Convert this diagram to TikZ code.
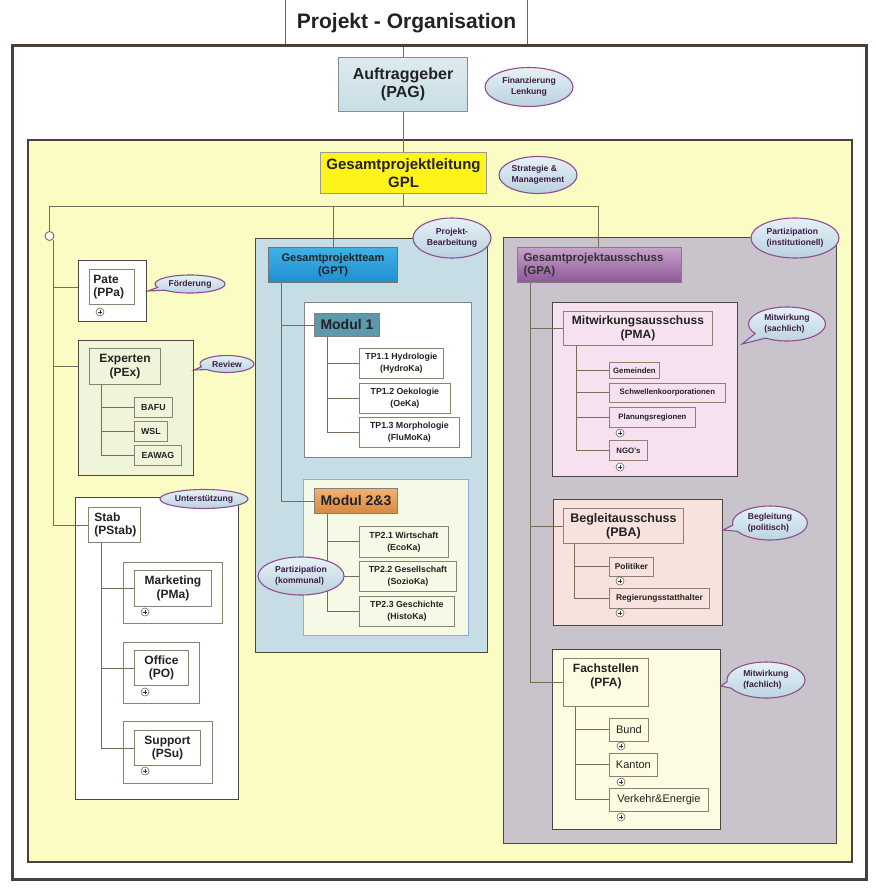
\documentclass[tikz,border=0pt]{standalone}
\usepackage{fontspec}
\setmainfont{Liberation Sans}
\usetikzlibrary{shapes.geometric,shapes.callouts}
\definecolor{outerC}{HTML}{4B4039}
\definecolor{yellowF}{HTML}{FBFBC4}
\definecolor{gptF}{HTML}{C7DDE5}
\definecolor{gpaF}{HTML}{C9C4CC}
\definecolor{pmaF}{HTML}{F6E1F0}
\definecolor{pbaF}{HTML}{F8E2DE}
\definecolor{pfaF}{HTML}{FDFBE2}
\definecolor{expF}{HTML}{EFF4DA}
\definecolor{mzF}{HTML}{F6F9E6}
\definecolor{mzD}{HTML}{8AAEDC}
\definecolor{moD}{HTML}{858585}
\definecolor{contD}{HTML}{4D4743}
\definecolor{subD}{HTML}{8C8270}
\definecolor{connC}{HTML}{7A6D58}
\definecolor{bubD}{HTML}{8E4E90}
\definecolor{bubT}{HTML}{E6F1F6}
\definecolor{bubB}{HTML}{B9D2DE}
\definecolor{bubTx}{HTML}{3D1D45}
\definecolor{txtC}{HTML}{222222}
\definecolor{gptT}{HTML}{3FB0E6}
\definecolor{gptB}{HTML}{1E90D0}
\definecolor{gpaT}{HTML}{C7A2CC}
\definecolor{gpaB}{HTML}{8E5798}
\definecolor{moF}{HTML}{5E98AD}
\definecolor{mzT}{HTML}{F2B274}
\definecolor{mzB}{HTML}{D9873E}
\newcommand\fsz[2]{\fontsize{#1}{#2}\selectfont}
\newcommand\mybox[7]{\node[anchor=north west,inner sep=0pt,minimum width={#5-#3},minimum height={#6-#4},#2] (#1) at (#3,#4) {#7};}
\begin{document}
\begin{tikzpicture}[x=1pt,y=-1pt,
  conn/.style={draw=connC,line width=0.9pt},
  cont/.style={draw=contD,line width=1.4pt},
  sub/.style={draw=subD,line width=0.8pt,font=\bfseries\fsz{8.8}{12},align=center,text=txtC},
  subs/.style={draw=subD,line width=0.8pt,font=\bfseries\fsz{7.8}{9},align=center,text=txtC},
  subr/.style={draw=subD,line width=0.8pt,font=\fsz{11}{13},align=center,text=txtC},
  head/.style={draw=subD,line width=0.9pt,font=\bfseries\fsz{12}{13.5},align=center,text=txtC},
  bub/.style={ellipse,draw=bubD,line width=1.1pt,top color=bubT,bottom color=bubB,text=bubTx,font=\bfseries\fsz{8.6}{10.5},inner sep=0pt,align=left},
  bubc/.style={ellipse callout,draw=bubD,line width=1.1pt,top color=bubT,bottom color=bubB,text=bubTx,font=\bfseries\fsz{8.6}{10.5},inner sep=0pt,align=left,callout pointer arc=22},
  plus/.style={circle,draw=subD!80!black,fill=white,line width=0.6pt,minimum size=8pt,inner sep=0pt,
    path picture={\draw[line width=0.6pt,black!80] ([xshift=-2.2pt]path picture bounding box.center) -- ([xshift=2.2pt]path picture bounding box.center) ([yshift=-2.2pt]path picture bounding box.center) -- ([yshift=2.2pt]path picture bounding box.center);}}
]
\useasboundingbox (0,0) rectangle (875,888);
\fill[white] (0,0) rectangle (875,888);
% title and frames
\mybox{title}{draw=black!60,line width=1.2pt,fill=white,font=\bfseries\fsz{21}{24},text=txtC}{285}{-1}{527}{46}{Projekt - Organisation}
\draw[outerC,line width=3pt,fill=white] (12,46) rectangle (866,879);
\draw[outerC,line width=2.5pt,fill=yellowF] (28,140) rectangle (852,862);
% top boxes
\mybox{pag}{draw=black!45,line width=1pt,top color=gptF!60!white,bottom color=gptF,font=\bfseries\fsz{16}{18.5},align=center,text=txtC}{338}{57}{467}{111}{Auftraggeber\\(PAG)}
\mybox{gpl}{draw=black!40,line width=1pt,fill=yellow!90!white,font=\bfseries\fsz{15}{17.5},align=center,text=txtC}{320}{152}{486}{193}{Gesamtprojektleitung\\GPL}
\node[bub,align=center,minimum width=88,minimum height=39] (fin) at (529,87) {Finanzierung\\Lenkung};
\node[bub,minimum width=78,minimum height=37] (strat) at (538,175) {Strategie \&\\Management};
% containers
\mybox{patec}{cont,fill=white}{78}{260}{146}{321}{}
\mybox{expc}{cont,fill=expF}{78}{340}{193}{475}{}
\mybox{stabc}{cont,fill=white}{75}{497}{238}{799}{}
\mybox{mktc}{draw=subD,line width=0.9pt}{123}{562}{222}{623}{}
\mybox{offc}{draw=subD,line width=0.9pt}{123}{642}{199}{703}{}
\mybox{supc}{draw=subD,line width=0.9pt}{123}{721}{212}{783}{}
\mybox{gptc}{cont,fill=gptF}{255}{238}{487}{652}{}
\mybox{moc}{draw=moD,line width=1.3pt,fill=white}{304}{302}{471}{457}{}
\mybox{mzc}{draw=mzD,line width=1.1pt,fill=mzF}{303}{479}{468}{635}{}
\mybox{gpac}{cont,fill=gpaF}{503}{237}{836}{843}{}
\mybox{pmac}{cont,fill=pmaF}{552}{302}{737}{476}{}
\mybox{pbac}{cont,fill=pbaF}{553}{499}{722}{625}{}
\mybox{pfac}{cont,fill=pfaF}{552}{649}{720}{829}{}
% left column boxes
\mybox{pate}{head,align=left,inner xsep=4pt,text width=37pt}{89}{269}{134}{304}{Pate\\(PPa)}
\mybox{exp}{head}{89}{348}{160}{384}{Experten\\(PEx)}
\mybox{bafu}{sub}{134}{397}{172}{417}{BAFU}
\mybox{wsl}{sub}{134}{421}{167}{441}{WSL}
\mybox{eawag}{sub}{134}{445}{181}{465}{EAWAG}
\mybox{stab}{head,align=left,inner xsep=6pt,text width=40pt}{88}{507}{140}{542}{Stab\\(PStab)}
\mybox{mkt}{head}{134}{570}{211}{606}{Marketing\\(PMa)}
\mybox{off}{head}{134}{650}{188}{685}{Office\\(PO)}
\mybox{sup}{head}{134}{730}{200}{765}{Support\\(PSu)}
% GPT
\mybox{gpt}{draw=black!55,line width=1pt,top color=gptT,bottom color=gptB,font=\bfseries\fsz{11}{13},align=center,text=txtC}{268}{247}{397}{282}{Gesamtprojektteam\\(GPT)}
\mybox{mo}{draw=black!50,line width=0.9pt,fill=moF,font=\bfseries\fsz{14}{16},text=txtC}{314}{313}{379}{336}{Modul 1}
\mybox{tpa}{sub}{359}{348}{443}{378}{TP1.1 Hydrologie\\(HydroKa)}
\mybox{tpb}{sub}{359}{383}{450}{413}{TP1.2 Oekologie\\(OeKa)}
\mybox{tpc}{sub}{359}{417}{459}{447}{TP1.3 Morphologie\\(FluMoKa)}
\mybox{mz}{draw=black!50,line width=0.9pt,top color=mzT,bottom color=mzB,font=\bfseries\fsz{14}{16},text=txtC}{314}{488}{397}{513}{Modul 2\&3}
\mybox{tpd}{sub}{359}{526}{448}{557}{TP2.1 Wirtschaft\\(EcoKa)}
\mybox{tpe}{sub}{359}{561}{456}{591}{TP2.2 Gesellschaft\\(SozioKa)}
\mybox{tpf}{sub}{359}{596}{454}{626}{TP2.3 Geschichte\\(HistoKa)}
% GPA
\mybox{gpa}{draw=black!50,line width=1pt,top color=gpaT,bottom color=gpaB,font=\bfseries\fsz{11.5}{13},align=left,inner xsep=6pt,text width=152pt,text=black!80}{517}{247}{681}{282}{Gesamtprojektausschuss\\(GPA)}
\mybox{pma}{head}{563}{311}{712}{345}{Mitwirkungsausschuss\\(PMA)}
\mybox{gem}{subs}{609}{362}{659}{378}{Gemeinden}
\mybox{sch}{subs}{609}{383}{725}{402}{Schwellenkoorporationen}
\mybox{plr}{subs}{609}{407}{695}{427}{Planungsregionen}
\mybox{ngo}{subs}{609}{440}{647}{460}{NGO's}
\mybox{pba}{head,font=\bfseries\fsz{12.5}{14}}{563}{508}{683}{543}{Begleitausschuss\\(PBA)}
\mybox{pol}{subs,font=\bfseries\fsz{8.4}{10}}{609}{557}{653}{576}{Politiker}
\mybox{reg}{subs,font=\bfseries\fsz{8.4}{10}}{609}{588}{709}{608}{Regierungsstatthalter}
\mybox{pfa}{head,font=\bfseries\fsz{12}{14}}{563}{658}{648}{706}{Fachstellen\\(PFA)\\\mbox{}}
\mybox{bund}{subr}{609}{718}{648}{741}{Bund}
\mybox{kant}{subr}{609}{753}{657}{776}{Kanton}
\mybox{vke}{subr}{609}{788}{708}{811}{Verkehr\&Energie}
% connectors
\coordinate (busL) at (49.5,206);
\coordinate (busM) at (333,206);
\coordinate (busR) at (598,206);
\node[circle,draw=connC,fill=white,line width=0.9pt,minimum size=9pt,inner sep=0pt] (jc) at (49.5,236) {};
\draw[conn] (title.south -| pag.north) -- (pag.north);
\draw[conn] (pag.south) -- (pag.south |- gpl.north);
\draw[conn] (gpl.south) -- (gpl.south |- busL);
\draw[conn] (busL) -- (busR);
\draw[conn] (busL) -- (jc.north);
\draw[conn] (busM) -- (busM |- gpt.north);
\draw[conn] (busR) -- (busR |- gpa.north);
\draw[conn] (jc.south east) -- (jc.south east |- stab.west) -- (stab.west);
\draw[conn] (jc.south east |- pate.west) -- (patec.west |- pate.west);
\draw[conn] (jc.south east |- exp.west) -- (expc.west |- exp.west);
\foreach \t in {bafu,wsl,eawag} \draw[conn] ([xshift=12pt]exp.south west) |- (\t.west);
\foreach \t in {mkt,off,sup} \draw[conn] ([xshift=13pt]stab.south west) |- (\t.west);
\foreach \t in {mo,mz} \draw[conn] ([xshift=13pt]gpt.south west) |- (\t.west);
\foreach \t in {tpa,tpb,tpc} \draw[conn] ([xshift=13pt]mo.south west) |- (\t.west);
\foreach \t in {tpd,tpe,tpf} \draw[conn] ([xshift=13pt]mz.south west) |- (\t.west);
\foreach \t in {pma,pba,pfa} \draw[conn] ([xshift=13pt]gpa.south west) |- (\t.west);
\foreach \t in {gem,sch,plr,ngo} \draw[conn] ([xshift=13pt]pma.south west) |- (\t.west);
\foreach \t in {pol,reg} \draw[conn] ([xshift=11pt]pba.south west) |- (\t.west);
\foreach \t in {bund,kant,vke} \draw[conn] ([xshift=12pt]pfa.south west) |- (\t.west);
% plus markers
\node[plus] (pl1) at (100,312) {};
\node[plus] (pl2) at (145,612) {};
\node[plus] (pl3) at (145,692) {};
\node[plus] (pl4) at (145,771) {};
\node[plus] (pl5) at (620,433) {};
\node[plus] (pl6) at (620,467) {};
\node[plus] (pl7) at (620,581) {};
\node[plus] (pl8) at (620,613) {};
\node[plus] (pl9) at (621,746) {};
\node[plus] (pl10) at (621,782) {};
\node[plus] (pl11) at (621,817) {};
% bubbles
\node[bubc,minimum width=70,minimum height=18,callout absolute pointer={(148,291)}] (foe) at (190,284) {F\"orderung};
\node[bubc,minimum width=54,minimum height=17,callout absolute pointer={(194,370)}] (rev) at (227,364) {Review};
\node[bub,minimum width=88,minimum height=19] (unt) at (204,499) {Unterst\"utzung};
\node[bub,align=center,minimum width=78,minimum height=40] (pbe) at (452,238) {Projekt-\\Bearbeitung};
\node[bub,minimum width=86,minimum height=38] (pko) at (301,576) {Partizipation\\(kommunal)};
\node[bub,minimum width=88,minimum height=40] (pin) at (795,238) {Partizipation\\(institutionell)};
\node[bubc,minimum width=77,minimum height=34,callout absolute pointer={(742,344)}] (mws) at (787,324) {Mitwirkung\\(sachlich)};
\node[bubc,minimum width=75,minimum height=34,callout absolute pointer={(723,530)}] (beg) at (770,523) {Begleitung\\(politisch)};
\node[bubc,minimum width=78,minimum height=36,callout absolute pointer={(721,686)}] (mwf) at (766,680) {Mitwirkung\\(fachlich)};
\end{tikzpicture}
\end{document}
